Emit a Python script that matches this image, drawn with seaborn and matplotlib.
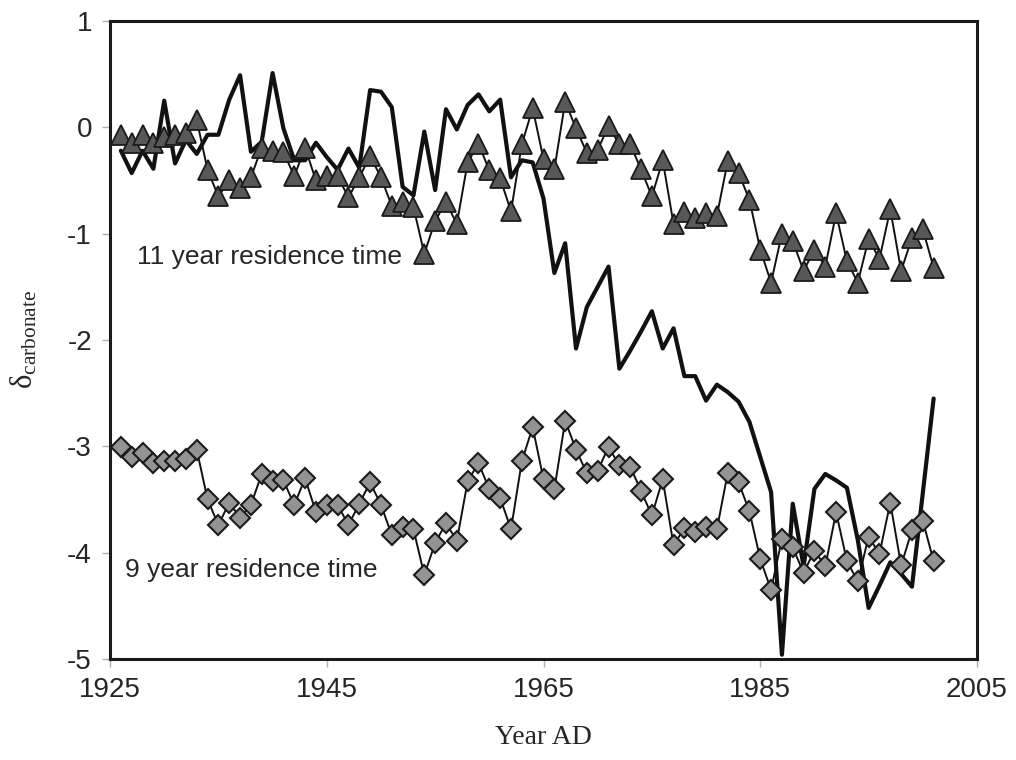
import numpy as np
import pandas as pd
import matplotlib
matplotlib.use("Agg")
import matplotlib.pyplot as plt
import seaborn as sns

years = list(range(1926, 2002))

tri_11yr = [-0.07, -0.15, -0.07, -0.15, -0.09, -0.07, -0.05, 0.07, -0.40, -0.65,
            -0.50, -0.57, -0.47, -0.19, -0.22, -0.23, -0.46, -0.19, -0.50, -0.46,
            -0.46, -0.66, -0.47, -0.27, -0.47, -0.74, -0.70, -0.75, -1.19, -0.88,
            -0.70, -0.91, -0.33, -0.155, -0.405, -0.48, -0.79, -0.16, 0.18, -0.30,
            -0.395, 0.24, -0.01, -0.24, -0.21, 0.01, -0.16, -0.16, -0.395, -0.65,
            -0.31, -0.91, -0.80, -0.85, -0.81, -0.83, -0.32, -0.43, -0.68, -1.15,
            -1.46, -1.00, -1.07, -1.35, -1.15, -1.31, -0.81, -1.26, -1.46, -1.05,
            -1.24, -0.77, -1.35, -1.04, -0.96, -1.32]

dia_9yr = [-3.005, -3.10, -3.06, -3.155, -3.14, -3.14, -3.12, -3.03, -3.50, -3.74,
           -3.53, -3.67, -3.55, -3.26, -3.33, -3.32, -3.55, -3.30, -3.62, -3.55,
           -3.55, -3.74, -3.54, -3.34, -3.55, -3.835, -3.76, -3.78, -4.21, -3.91,
           -3.72, -3.89, -3.33, -3.155, -3.405, -3.485, -3.78, -3.14, -2.82, -3.31,
           -3.405, -2.76, -3.03, -3.255, -3.23, -3.005, -3.18, -3.19, -3.42, -3.65,
           -3.31, -3.93, -3.77, -3.81, -3.76, -3.78, -3.25, -3.34, -3.61, -4.06,
           -4.35, -3.87, -3.95, -4.19, -3.98, -4.13, -3.62, -4.08, -4.27, -3.85,
           -4.01, -3.53, -4.12, -3.79, -3.70, -4.08]

measured = [-0.22, -0.43, -0.22, -0.39, 0.25, -0.34, -0.12, -0.25, -0.07, -0.07,
            0.26, 0.49, -0.23, -0.135, 0.51, -0.01, -0.31, -0.31, -0.145, -0.28,
            -0.40, -0.20, -0.38, 0.35, 0.335, 0.19, -0.56, -0.64, -0.04, -0.59,
            0.17, -0.02, 0.21, 0.31, 0.15, 0.26, -0.47, -0.31, -0.33, -0.67,
            -1.37, -1.09, -2.08, -1.69, -1.50, -1.31, -2.27, -2.10, -1.92, -1.73,
            -2.08, -1.89, -2.34, -2.34, -2.57, -2.42, -2.49, -2.58, -2.77, -3.10,
            -3.43, -4.96, -3.54, -4.13, -3.40, -3.26, -3.32, -3.39, -3.88, -4.52,
            -4.31, -4.09, -4.20, -4.32, -3.44, -2.55]

x_ticks = [1925, 1945, 1965, 1985, 2005]
y_ticks = [1, 0, -1, -2, -3, -4, -5]
label_11 = "11 year residence time"
label_9 = "9 year residence time"

df = pd.DataFrame({"year": years, "tri": tri_11yr, "dia": dia_9yr, "meas": measured})

sns.set_style("white")
plt.rcParams["font.family"] = ["Liberation Sans", "DejaVu Sans"]
plt.rcParams["mathtext.fontset"] = "custom"
plt.rcParams["mathtext.rm"] = "Liberation Serif"
plt.rcParams["mathtext.it"] = "Liberation Serif:italic"

fig = plt.figure(figsize=(10.16, 7.6), dpi=100)
ax = fig.add_axes([0.1083, 0.1329, 0.9616 - 0.1083, 0.9724 - 0.1329])

sns.lineplot(data=df, x="year", y="meas", ax=ax, color="#111111", linewidth=3.0,
             sort=False, zorder=2)
sns.lineplot(data=df, x="year", y="tri", ax=ax, color="#111111", linewidth=1.4,
             marker="^", markersize=15, markerfacecolor="#585858",
             markeredgecolor="#1a1a1a", markeredgewidth=1.3, sort=False, zorder=3)
sns.lineplot(data=df, x="year", y="dia", ax=ax, color="#111111", linewidth=1.4,
             marker="D", markersize=10, markerfacecolor="#939393",
             markeredgecolor="#1a1a1a", markeredgewidth=1.5, sort=False, zorder=3)

ax.set_xlim(1925, 2005)
ax.set_ylim(-5, 1)
ax.set_xticks(x_ticks)
ax.set_yticks(y_ticks)
ax.set_xticklabels([str(v) for v in x_ticks], fontsize=20)
ax.set_yticklabels([str(v) for v in y_ticks], fontsize=20)
ax.tick_params(axis="both", direction="out", length=6, width=1, color="#b0b0b0",
               pad=7, bottom=True, left=True)

for s in ax.spines.values():
    s.set_color("#1a1a1a")
    s.set_linewidth(2.2)

ax.set_xlabel("Year AD", fontsize=20, family=["Liberation Serif"], labelpad=16)
ax.set_ylabel(r"$\mathrm{δ}_{\mathrm{carbonate}}$", fontsize=22, labelpad=20)

ax.text(1927.5, -1.22, label_11, fontsize=19, va="center", ha="left")
ax.text(1926.4, -4.16, label_9, fontsize=19, va="center", ha="left")

fig.savefig("out.png", dpi=100)
